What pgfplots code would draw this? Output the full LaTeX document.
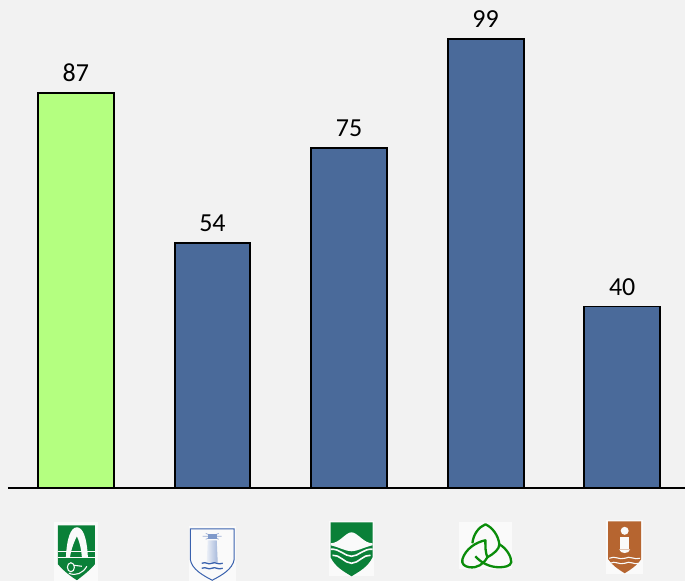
\documentclass[border=0pt]{standalone}
\usepackage{pgfplots}
\pgfplotsset{compat=1.18}
\usepackage{fontspec}
\setmainfont{Carlito}
\definecolor{bg}{HTML}{F2F2F2}
\definecolor{barblue}{HTML}{4A6A9A}
\definecolor{bargreen}{HTML}{B4FF80}
\definecolor{lgreen}{HTML}{0A8038}
\definecolor{lblue}{HTML}{3A62AE}
\definecolor{tgreen}{HTML}{0A8C0A}
\definecolor{lbrown}{HTML}{B66530}
\colorlet{lw}{white!60!bg}
\begin{document}
\begin{tikzpicture}
\fill[bg] (0,0) rectangle (686pt,582pt);
\begin{axis}[
  at={(0,0)}, anchor=south west,
  width=686pt, height=582pt, scale only axis,
  xmin=-0.5558, xmax=4.4607, ymin=-20.595, ymax=107.6,
  hide axis, clip=false,
  /pgf/number format/assume math mode=true,
  ybar, bar width=76pt, bar shift=0pt,
  nodes near coords,
  every node near coord/.append style={font=\fontsize{26}{30}\selectfont, black, yshift=7pt},
]
\addplot[fill=bargreen, draw=black, line width=2pt] coordinates {(0,87)};
\addplot[fill=barblue, draw=black, line width=2pt] coordinates {(1,54) (2,75) (3,99) (4,40)};
\end{axis}
\begin{scope}[x=1pt,y=-1pt,yshift=582pt]
\draw[black, line width=1.8pt] (8,488.5) -- (686,488.5);
% logo 1
\fill[lw] (54,523) rectangle (98,582);
\fill[lgreen] (58,526) -- (95,526) -- (95,565) .. controls (88,573) and (82,577) .. (77,581) .. controls (71,577) and (65,573) .. (58,565) -- cycle;
\fill[lw] (66,558) .. controls (67,538) and (71,528) .. (77,528) .. controls (83,528) and (87,538) .. (88,558) -- (82,558) .. controls (81,547) and (79,541) .. (77,537) .. controls (75,541) and (72,547) .. (70,558) -- cycle;
\draw[lw, line width=1pt] (58,552) -- (95,552) (58,558) -- (95,558);
\draw[lw, line width=1.1pt] (71,568) ellipse (3.5pt and 4.5pt) (69,574) .. controls (76,577) and (83,574) .. (87,567) (74,566) -- (82,567);
% logo 2
\fill[lw] (189,527) rectangle (236,582);
\draw[lblue, line width=1pt] (190.5,529.5) -- (234.5,529.5) -- (234.5,560) .. controls (233,570) and (222,576) .. (212.5,581) .. controls (203,576) and (192,570) .. (190.5,560) -- cycle;
\shade[left color=lblue!10!white, right color=lblue!45!white] (208,541) -- (217,541) -- (218,563) -- (207,563) -- cycle;
\draw[lblue!50!white, line width=.7pt] (203,537) -- (222,537) (206,534) -- (219,540) (206,540) -- (219,534);
\fill[lblue!65!white] (208,535) rectangle (217,540);
\draw[lblue, line width=1.3pt] (202,564) .. controls (207,562) and (208,566) .. (212,564) .. controls (216,562) and (218,566) .. (223,564);
\draw[lblue, line width=1.3pt] (202,569) .. controls (207,567) and (208,571) .. (212,569) .. controls (216,567) and (218,571) .. (223,569);
% logo 3
\fill[lw] (329,522) rectangle (374,577);
\fill[lgreen] (331,523) -- (373,523) -- (373,558) .. controls (368,568) and (360,572) .. (352,577) .. controls (344,572) and (336,568) .. (331,558) -- cycle;
\fill[lw] (331,544) .. controls (340,544) and (346,533) .. (352,533) .. controls (358,533) and (364,544) .. (373,544) -- (373,546) .. controls (364,548) and (358,552) .. (352,552) .. controls (346,552) and (340,548) .. (331,546) -- cycle;
\draw[lw, line width=1.6pt] (331,550) .. controls (340,549) and (345,557) .. (352,557) .. controls (359,557) and (364,549) .. (373,550);
\draw[lw, line width=1.6pt] (333,556) .. controls (340,555) and (345,564) .. (352,564) .. controls (359,564) and (364,555) .. (371,556);
% logo 4
\fill[lw] (460,523) rectangle (513,570);
\begin{scope}[tgreen, line width=2.3pt, line join=round]
\draw (473,544) .. controls (474,535) and (479,528) .. (486,525) .. controls (493,528) and (499,536) .. (500,545) .. controls (500,550) and (495,554) .. (488,558);
\draw (486,541) .. controls (476,543) and (466,550) .. (463,560) .. controls (462,565) and (465,567) .. (470,568) .. controls (478,569) and (484,565) .. (488,558) .. controls (486,553) and (486,548) .. (486,541) -- cycle;
\draw (500,545) .. controls (507,549) and (512,557) .. (512,563) .. controls (511,567) and (505,568) .. (500,568) .. controls (491,568) and (482,564) .. (476,557);
\end{scope}
% logo 5
\fill[lw] (607,521) rectangle (644,575);
\fill[lbrown] (609,522) -- (642,522) -- (642,560) .. controls (638,566) and (632,570) .. (625.5,574) .. controls (619,570) and (613,566) .. (609,560) -- cycle;
\fill[lw] (625.5,531.5) circle (4pt);
\fill[lw] (621,538) rectangle (630,550);
\fill[lw] (620,550) .. controls (621,555) and (630,555) .. (631,550) -- cycle;
\draw[lw, line width=1.1pt] (610,559) .. controls (616,556) and (620,561) .. (625.5,559) .. controls (631,556) and (635,561) .. (641,559);
\draw[lw, line width=1.1pt] (611,564) .. controls (616,561) and (620,566) .. (625.5,564) .. controls (631,561) and (635,566) .. (640,564);
\end{scope}
\end{tikzpicture}
\end{document}
